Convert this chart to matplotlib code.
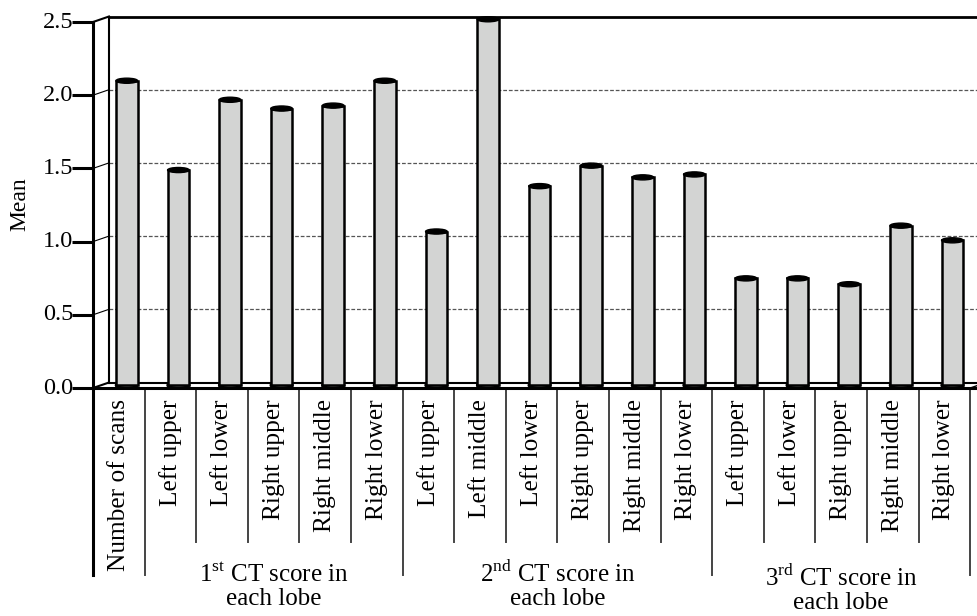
import matplotlib
matplotlib.use("Agg")
import matplotlib.pyplot as plt
from matplotlib import transforms
from matplotlib.patches import Ellipse

plt.rcParams['font.family'] = ['Liberation Serif', 'DejaVu Serif']
plt.rcParams['mathtext.fontset'] = 'custom'
plt.rcParams['mathtext.rm'] = 'Liberation Serif'

# data
categories = ["Number of scans",
              "Left upper", "Left lower", "Right upper", "Right middle", "Right lower",
              "Left upper", "Left middle", "Left lower", "Right upper", "Right middle", "Right lower",
              "Left upper", "Left lower", "Right upper", "Right middle", "Right lower"]
means = [2.08,
         1.47, 1.95, 1.89, 1.91, 2.08,
         1.05, 2.50, 1.36, 1.50, 1.42, 1.44,
         0.73, 0.73, 0.69, 1.09, 0.99]
groups = [r"1$^{\rm st}$ CT score in", r"2$^{\rm nd}$ CT score in", r"3$^{\rm rd}$ CT score in"]
group_bounds = [(1, 6), (6, 12), (12, 17)]
yticks = [0.0, 0.5, 1.0, 1.5, 2.0, 2.5]

W, H = 977, 616
CW = 51.6          # px per category
X0, Y0, YT = 93, 388, 22
DXP, DYP = 16, 5.5  # depth offset in px

fig = plt.figure(figsize=(W / 100, H / 100), dpi=100)
ax = fig.add_axes([X0 / W, (H - Y0) / H, (W - X0) / W, (Y0 - YT) / H])
xmax = (W - X0) / CW
ax.set_xlim(0, xmax)
ax.set_ylim(0, 2.5)
ax.axis('off')

DX = DXP / CW
DY = DYP / ((Y0 - YT) / 2.5)
back = transforms.offset_copy(ax.transData, fig=fig, x=DXP, y=DYP, units='dots')
mid = transforms.offset_copy(ax.transData, fig=fig, x=DXP / 2, y=DYP / 2, units='dots')

def fy(py):
    return 1 - py / H

tb = transforms.blended_transform_factory(ax.transData, fig.transFigure)

# back wall: grid, top, left
for t in yticks[1:-1]:
    ax.plot([0, xmax], [t, t], transform=back, color='#555555', lw=0.9,
            ls=(0, (3, 1.5)), clip_on=False, zorder=1)
ax.plot([0, xmax], [2.5, 2.5], transform=back, color='black', lw=2, clip_on=False, zorder=1)
ax.plot([0, 0], [0, 2.5], transform=back, color='black', lw=1.5, clip_on=False, zorder=1)
ax.plot([0, xmax], [0, 0], transform=back, color='black', lw=1.5, clip_on=False, zorder=1)

# connectors front -> back
for t in yticks:
    lw = 1.5 if t in (0.0, 2.5) else 0.8
    ax.plot([0, DX], [t, t + DY], color='black', lw=lw, clip_on=False, zorder=1)
ax.plot([17, 17 + DX], [0, DY], color='black', lw=1, clip_on=False, zorder=1)

# bars (cylinders)
pos = [i + 0.5 for i in range(len(means))]
ax.bar(pos, means, width=0.42, color='#d3d4d3', edgecolor='black', lw=1.8,
       transform=mid, zorder=3, clip_on=False)
for x, v in zip(pos, means):
    ax.add_patch(Ellipse((x, 0), 0.42, 0.035, facecolor='#d3d4d3', edgecolor='black',
                         lw=1.8, transform=mid, zorder=2.9, clip_on=False))
    ax.add_patch(Ellipse((x, v), 0.42, 0.035, facecolor='black', edgecolor='black',
                         lw=1, transform=mid, zorder=4, clip_on=False))

# front axis and floor edge
ax.plot([0, xmax], [0, 0], color='black', lw=2.2, clip_on=False, zorder=5)
ax.plot([0, 0], [0, 2.5], color='black', lw=2.2, clip_on=False, zorder=5)
tick_lbl = transforms.offset_copy(ax.transData, fig=fig, x=-20, y=0, units='dots')
for t in yticks:
    ax.plot([0], [t], marker=0, markersize=15, mew=2.2, color='black', clip_on=False, zorder=5)
    ax.text(0, t, f"{t:.1f}", transform=tick_lbl, ha='right', va='center', fontsize=17.5)

fig.text(20 / W, fy(204), "Mean", rotation=90, ha='center', va='center', fontsize=17)

# category labels + dividers
for x, lab in zip(pos, categories):
    ax.text(x, fy(399), lab, rotation=90, ha='center', va='top', fontsize=18.3, transform=tb)
long_bounds = {0, 1, 6, 12, 17}
for b in range(18):
    bottom = 575 if b in long_bounds else 542
    ax.plot([b, b], [fy(Y0), fy(bottom)], transform=tb, color='black' if b == 0 else '#444444',
            lw=2.2 if b == 0 else 1.4, clip_on=False)

for (a, b), g, dy in zip(group_bounds, groups, [0, 0, 4]):
    c = (a + b) / 2
    ax.text(c, fy(582 + dy), g, ha='center', va='baseline', fontsize=18, transform=tb)
    ax.text(c, fy(605 + dy), "each lobe", ha='center', va='baseline', fontsize=18, transform=tb)

fig.savefig("out.png", dpi=100)
